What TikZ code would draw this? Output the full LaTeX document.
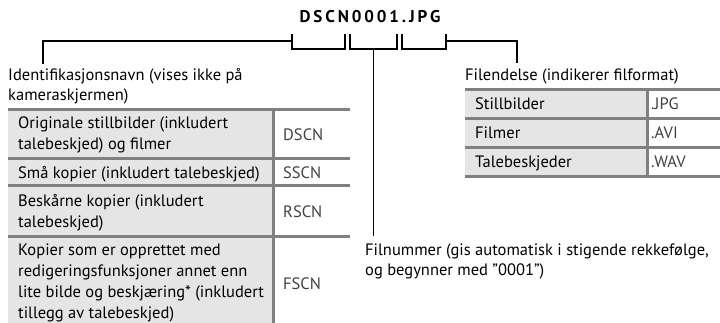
\documentclass[tikz,border=0pt]{standalone}
\usepackage{fontspec}
\setmainfont{PT Sans}
\newfontfamily\titlefont{PT Sans}[LetterSpace=17]
\tikzset{
  txt/.style={anchor=base west, inner sep=0pt, font=\fontsize{16.5}{20}\selectfont},
  code/.style={txt, text=black!75},
  brk/.style={draw=black, line width=1.6pt},
  grule/.style={draw=black!50, line width=3pt},
  cellgray/.style={fill=black!10},
}
\begin{document}
\begin{tikzpicture}[x=1pt,y=-1pt]
\useasboundingbox (0,0) rectangle (720,323);

% ---- title
\node[inner sep=0pt, anchor=base, font=\titlefont\bfseries\fontsize{17}{19}\selectfont] (title) at (370,23) {DSCN0001.JPG};

% ---- brackets
\coordinate (b1a) at (292,34); \coordinate (b1b) at (345,34);
\coordinate (b2a) at (350,34); \coordinate (b2b) at (397,34);
\coordinate (b3a) at (402,34); \coordinate (b3b) at (446,34);
\draw[brk] (b1a) -- ++(0,15) -| (b1b);
\draw[brk] (b2a) -- ++(0,15) -| (b2b);
\draw[brk] (b3a) -- ++(0,15) -| (b3b);
\coordinate (b1m) at (292,41);
\coordinate (b2m) at (373.5,49);
\coordinate (b3m) at (446,41);
\coordinate (idend) at (43,64);
\coordinate (extend) at (517,63);
\coordinate (numend) at (373.5,236);
\draw[brk] (b1m) -| (idend);
\draw[brk] (b3m) -| (extend);
\draw[brk] (b2m) -- (numend);

% ---- labels
\node[txt] (id1) at (8,81) {Identifikasjonsnavn (vises ikke på};
\node[txt] (id2) at (8,101) {kameraskjermen)};
\node[txt] (ext) at (465,81) {Filendelse (indikerer filformat)};
\node[txt] (num1) at (365,255) {Filnummer (gis automatisk i stigende rekkefølge,};
\node[txt] (num2) at (365,275) {og begynner med \char"0022 0001\char"0022)};

% ---- left table
\fill[cellgray] (8,109.5) rectangle (273,340);
\draw[grule] (8,109.5) -- (350,109.5);
\draw[grule] (8,159) -- (350,159);
\draw[grule] (8,186) -- (350,186);
\draw[grule] (8,236) -- (350,236);
\draw[grule] (273,109.5) -- (273,323);

\node[txt] (r1a) at (18,129) {Originale stillbilder (inkludert};
\node[txt] (r1b) at (18,150) {talebeskjed) og filmer};
\node[code] (c1) at (283,140.5) {DSCN};
\node[txt] (r2a) at (18,178.5) {Små kopier (inkludert talebeskjed)};
\node[code] (c2) at (283,179) {SSCN};
\node[txt] (r3a) at (18,206.5) {Beskårne kopier (inkludert};
\node[txt] (r3b) at (18,227.5) {talebeskjed)};
\node[code] (c3) at (283,218) {RSCN};
\node[txt] (r4a) at (18,255) {Kopier som er opprettet med};
\node[txt] (r4b) at (18,276) {redigeringsfunksjoner annet enn};
\node[txt] (r4c) at (18,297) {lite bilde og beskjæring* (inkludert};
\node[txt] (r4d) at (18,318) {tillegg av talebeskjed)};
\node[code] (c4) at (283,289) {FSCN};

% ---- right table
\fill[cellgray] (465,89.5) rectangle (647,177);
\draw[grule] (465,89.5) -- (720,89.5);
\draw[grule] (465,119) -- (720,119);
\draw[grule] (465,148) -- (720,148);
\draw[grule] (465,177) -- (720,177);
\draw[grule] (647,89.5) -- (647,177);

\node[txt] (s1) at (475,110) {Stillbilder};
\node[code] (e1) at (651,110) {.JPG};
\node[txt] (s2) at (475,139) {Filmer};
\node[code] (e2) at (651,139) {.AVI};
\node[txt] (s3) at (475,168) {Talebeskjeder};
\node[code] (e3) at (651,168) {.WAV};
\end{tikzpicture}
\end{document}
